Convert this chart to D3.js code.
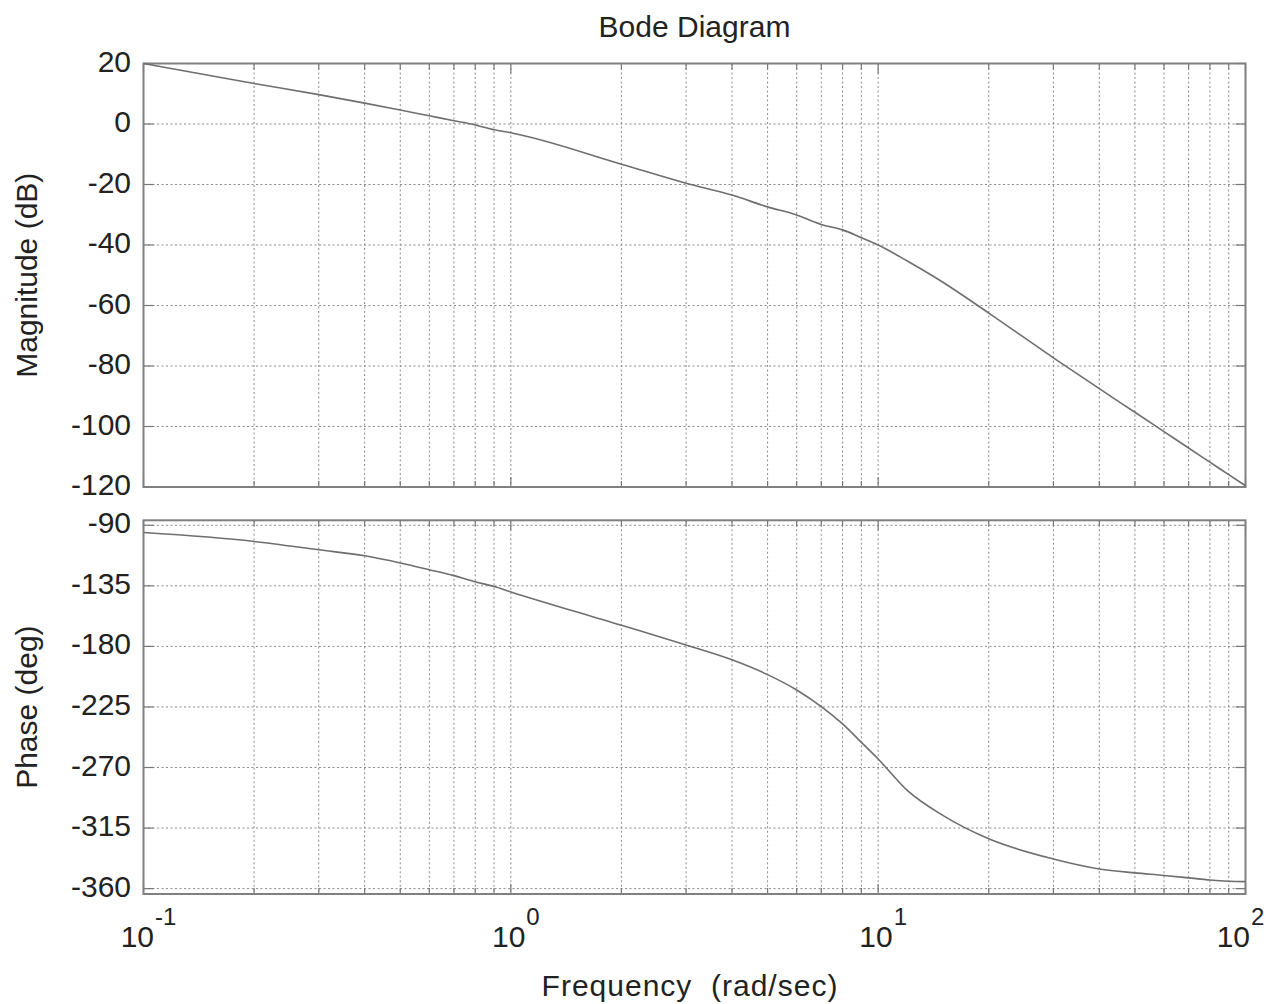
<!DOCTYPE html>
<html lang="en">
<head>
    <meta charset="UTF-8">
    <title>Bode Diagram</title>
    <script src="https://cdn.jsdelivr.net/npm/d3@7"></script>
    <style>
        body { margin: 0; background: #fff; }
        text { font-family: "Liberation Sans", Arial, Helvetica, sans-serif; fill: #222; }
    </style>
</head>
<body>
<svg width="1270" height="1004"></svg>
<script>

    // frequency samples (rad/sec)
    const freq = [0.1, 0.2, 0.3, 0.4, 0.5, 0.6, 0.7, 0.8, 0.9, 1,
                  2, 3, 4, 5, 6, 7, 8, 9, 10, 12, 15,
                  20, 30, 40, 50, 60, 70, 80, 90, 100]
    const magnitude = [20, 13.4, 9.7, 6.9, 4.6, 2.7, 1.1, -0.3, -1.9, -2.9,
                       -13.3, -19.6, -23.5, -27.4, -30.1, -33.2, -35, -37.6, -40, -45.3, -52.3,
                       -62.5, -77.3, -87.5, -95.3, -101.7, -107.1, -111.8, -115.9, -119.6]
    const phase = [-95.4, -102, -108.2, -112.7, -118, -123, -127.4, -132, -135.5, -139.5,
                   -164.3, -179, -190, -201, -212.4, -224.7, -237.6, -251.3, -263.7, -287, -305.6,
                   -323, -338, -345.4, -348.3, -350.2, -352, -353.6, -354.5, -354.8]

    const magTicks = [20, 0, -20, -40, -60, -80, -100, -120]
    const phaseTicks = [-90, -135, -180, -225, -270, -315, -360]
    const decades = [-1, 0, 1, 2]

    const left = 143.5, right = 1245.5
    const svg = d3.select("svg")

    const x = d3.scaleLog().domain([0.1, 100]).range([left, right])
    const yMag = d3.scaleLinear().domain([-120, 20]).range([487, 63.5])
    const yPh = d3.scaleLinear().domain([-364, -86.3]).range([894, 520.3])

    // every log position 1..9 per decade
    const logPos = []
    for (let d = -1; d < 2; d++)
        for (let k = 1; k < 10; k++) logPos.push(k * Math.pow(10, d))
    logPos.push(100)
    const isDecade = f => decades.includes(Math.round(Math.log10(f) * 1000) / 1000)

    function panel(y, ticks, values, label) {
        const [y0, y1] = y.range()
        const g = svg.append("g")

        // dotted grid
        g.selectAll(".vg").data(logPos.filter(f => f > 0.1 && f < 100)).join("line")
            .attr("x1", d => x(d)).attr("x2", d => x(d))
            .attr("y1", y1).attr("y2", y0)
            .attr("stroke", "#8a8a8a").attr("stroke-width", 1)
            .attr("stroke-dasharray", "2,2.5")
        g.selectAll(".hg").data(ticks.filter(t => y(t) > y1 + 1 && y(t) < y0 - 1)).join("line")
            .attr("x1", left).attr("x2", right)
            .attr("y1", d => y(d)).attr("y2", d => y(d))
            .attr("stroke", "#8a8a8a").attr("stroke-width", 1)
            .attr("stroke-dasharray", "2,2.5")

        // inward ticks on all four sides
        g.selectAll(".tb").data(logPos).join("line")
            .attr("x1", d => x(d)).attr("x2", d => x(d))
            .attr("y1", y0).attr("y2", d => y0 - (isDecade(d) ? 10 : 6))
            .attr("stroke", "#777").attr("stroke-width", 1.2)
        g.selectAll(".tt").data(logPos).join("line")
            .attr("x1", d => x(d)).attr("x2", d => x(d))
            .attr("y1", y1).attr("y2", d => y1 + (isDecade(d) ? 10 : 6))
            .attr("stroke", "#777").attr("stroke-width", 1.2)
        g.selectAll(".tl").data(ticks).join("line")
            .attr("x1", left).attr("x2", left + 10)
            .attr("y1", d => y(d)).attr("y2", d => y(d))
            .attr("stroke", "#777").attr("stroke-width", 1.2)
        g.selectAll(".tr").data(ticks).join("line")
            .attr("x1", right - 10).attr("x2", right)
            .attr("y1", d => y(d)).attr("y2", d => y(d))
            .attr("stroke", "#777").attr("stroke-width", 1.2)

        // box
        g.append("rect")
            .attr("x", left).attr("y", y1)
            .attr("width", right - left).attr("height", y0 - y1)
            .attr("fill", "none").attr("stroke", "#808080").attr("stroke-width", 2)

        // tick labels
        g.selectAll(".yl").data(ticks).join("text")
            .attr("x", 131).attr("y", d => y(d) + 8)
            .attr("text-anchor", "end").attr("font-size", 30)
            .text(d => d)

        // curve
        const line = d3.line()
            .x((d, i) => x(freq[i]))
            .y(d => y(d))
            .curve(d3.curveMonotoneX)
        g.append("path").datum(values)
            .attr("d", line)
            .attr("fill", "none").attr("stroke", "#6e6e6e").attr("stroke-width", 1.6)

        // axis title
        g.append("text")
            .attr("transform", `translate(37,${(y0 + y1) / 2}) rotate(-90)`)
            .attr("text-anchor", "middle").attr("font-size", 30)
            .text(label)
    }

    panel(yMag, magTicks, magnitude, "Magnitude (dB)")
    panel(yPh, phaseTicks, phase, "Phase (deg)")

    // x tick labels with exponent (last one pulled in so it stays on the page)
    const xl = svg.selectAll(".xl").data(decades).join("text")
        .attr("x", d => x(Math.pow(10, d)) + (d === 2 ? -5 : 5)).attr("y", 947)
        .attr("text-anchor", "middle").attr("font-size", 30)
    xl.append("tspan").text("10")
    xl.append("tspan").attr("dx", 1).attr("dy", -22).attr("font-size", 24).text(d => d)

    svg.append("text")
        .attr("x", (left + right) / 2).attr("y", 37)
        .attr("text-anchor", "middle").attr("font-size", 30)
        .text("Bode Diagram")

    svg.append("text")
        .attr("x", 690).attr("y", 996)
        .attr("text-anchor", "middle").attr("font-size", 30)
        .attr("letter-spacing", 1)
        .attr("xml:space", "preserve").style("white-space", "pre")
        .text("Frequency  (rad/sec)")

</script>
</body>
</html>
